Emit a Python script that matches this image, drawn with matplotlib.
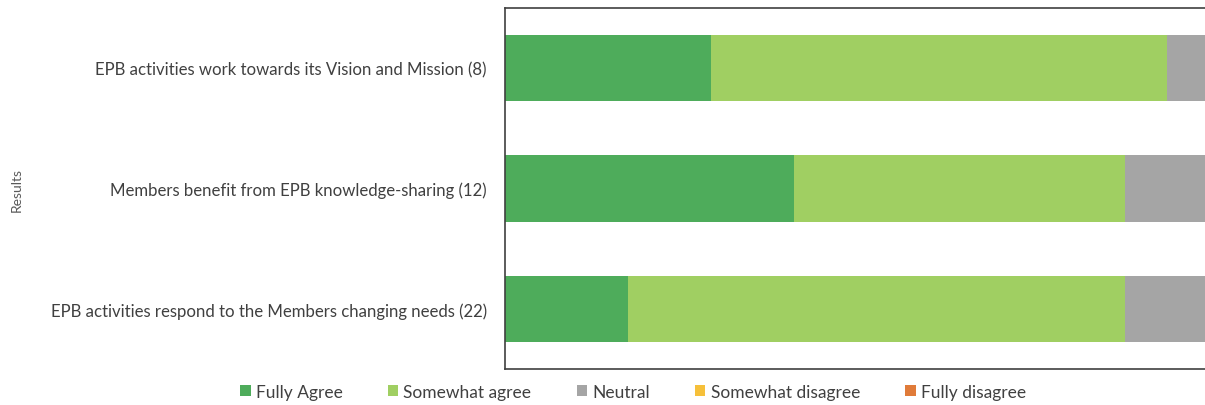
import matplotlib
matplotlib.use('Agg')
import matplotlib.pyplot as plt
import numpy as np

plt.rcParams['font.family'] = ['Lato', 'DejaVu Sans']

# 各題目的回覆比例 (%)
statements = [
    'EPB activities work towards its Vision and Mission (8)',
    'Members benefit from EPB knowledge-sharing (12)',
    'EPB activities respond to the Members changing needs (22)',
]
responses = ['Fully Agree', 'Somewhat agree', 'Neutral',
             'Somewhat disagree', 'Fully disagree']
fully_agree = [29.4, 41.3, 17.6]
somewhat_agree = [65.1, 47.3, 71.0]
neutral = [5.5, 11.4, 11.4]
somewhat_disagree = [0, 0, 0]
fully_disagree = [0, 0, 0]
colors = ['#4EAC5B', '#A0CF62', '#A5A5A5', '#F6C03A', '#E07B39']

series = [fully_agree, somewhat_agree, neutral, somewhat_disagree, fully_disagree]

fig = plt.figure(figsize=(12.05, 4.06), dpi=100)
ax = fig.add_axes([505 / 1205, 36 / 406, 1 - 505 / 1205, (370 - 9) / 406])

y = np.arange(len(statements))
left = np.zeros(len(statements))
for vals, name, col in zip(series, responses, colors):
    ax.barh(y, vals, left=left, height=0.55, color=col, label=name)
    left += np.array(vals)

ax.set_xlim(0, 100)
ax.set_ylim(len(statements) - 0.5, -0.5)
ax.set_yticks(y)
ax.set_yticklabels(statements, fontsize=12.1, color='#404040')
ax.tick_params(axis='y', length=0, pad=13)
ax.set_xticks([])
for side in ('left', 'top', 'bottom'):
    ax.spines[side].set_color('#404040')
    ax.spines[side].set_linewidth(1.2)
ax.spines['right'].set_visible(False)

fig.text(17 / 1205, 1 - 190 / 406, 'Results', rotation=90, ha='center',
         va='center', fontsize=10, color='#595959')

fig.legend(loc='center', bbox_to_anchor=(633 / 1205, 1 - 393 / 406), ncol=5,
           frameon=False, fontsize=12.5, handlelength=0.6, handleheight=0.6,
           handletextpad=0.3, columnspacing=2.6, labelcolor='#404040')

fig.savefig('out.png', dpi=100)
